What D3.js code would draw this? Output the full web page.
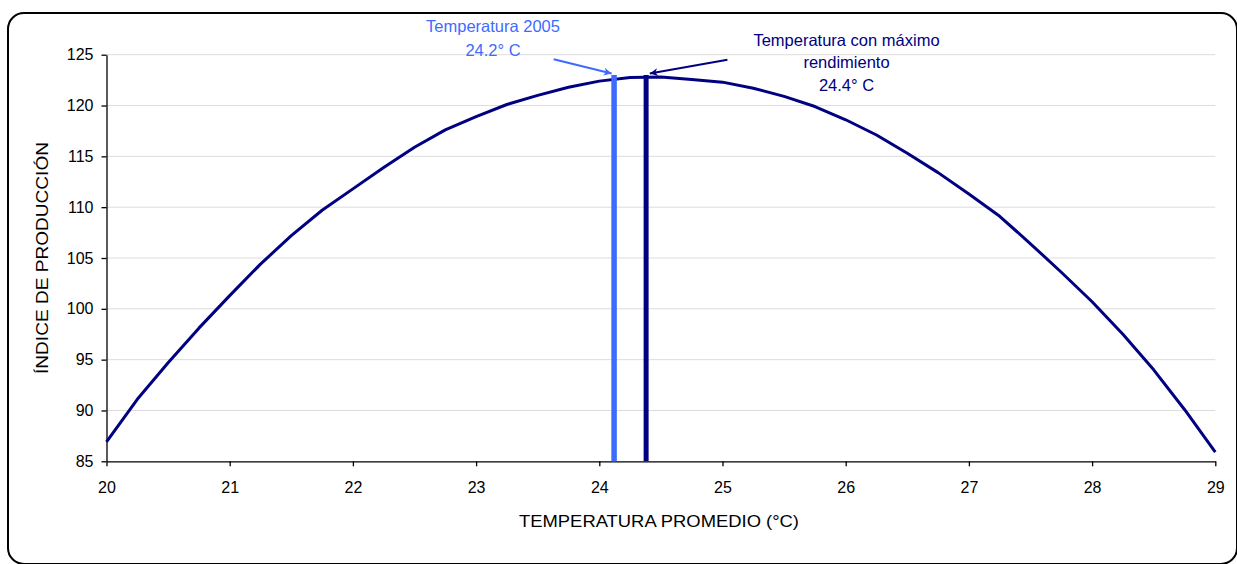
<!DOCTYPE html>
<html><head><meta charset="utf-8">
<script src="https://cdn.jsdelivr.net/npm/d3@7"></script>
<style>
body{margin:0;background:#fff}
svg{display:block}
text{font-family:"Liberation Sans",Arial,Helvetica,sans-serif}
</style>
</head><body>
<svg id="chart" width="1237" height="564"></svg>
<script>
// ---- data ----
const temperatures = [20, 20.25, 20.5, 20.75, 21, 21.25, 21.5, 21.75, 22, 22.25, 22.5, 22.75,
  23, 23.25, 23.5, 23.75, 24, 24.25, 24.5, 24.75, 25, 25.25, 25.5, 25.75, 26, 26.25, 26.5, 26.75,
  27, 27.25, 27.5, 27.75, 28, 28.25, 28.5, 28.75, 29];
const productionIndex = [86.9, 91.1, 94.7, 98.1, 101.3, 104.4, 107.2, 109.7, 111.8, 113.9, 115.9, 117.6,
  118.9, 120.1, 121.0, 121.8, 122.4, 122.75, 122.8, 122.55, 122.3, 121.7, 120.9, 119.9, 118.6, 117.1, 115.3, 113.4,
  111.3, 109.1, 106.4, 103.6, 100.7, 97.5, 94.0, 90.1, 85.9];
const xTickValues = [20, 21, 22, 23, 24, 25, 26, 27, 28, 29];
const yTickValues = [85, 90, 95, 100, 105, 110, 115, 120, 125];
const markerNames = ["Temperatura 2005", "Temperatura con máximo rendimiento"];
const markerTemps = [24.12, 24.38];
const markerTops = [123.0, 123.0];
const markerLabels = [["Temperatura 2005", "24.2° C"], ["Temperatura con máximo", "rendimiento", "24.4° C"]];
// arrow start / tip in data units
const arrowFromT = [23.63, 25.04];
const arrowFromV = [124.55, 124.5];
const arrowToT = [24.10, 24.41];
const arrowToV = [123.15, 123.15];
const xTitle = "TEMPERATURA PROMEDIO (°C)";
const yTitle = "ÍNDICE DE PRODUCCIÓN";

// ---- layout ----
const W = 1237, H = 564;
const plot = {left: 106.5, right: 1215.3, top: 54.7, bottom: 461.3};
const colors = {curve: "#000080", light: "#3d6bff", dark: "#000080", grid: "#dcdcdc", axis: "#000"};

const svg = d3.select("#chart");
svg.append("rect").attr("width", W).attr("height", H).attr("fill", "#fff");
svg.append("rect").attr("x", 8).attr("y", 13).attr("width", 1229).attr("height", 551)
  .attr("rx", 16).attr("ry", 16).attr("fill", "none").attr("stroke", "#000").attr("stroke-width", 2);

const x = d3.scaleLinear().domain([20, 29]).range([plot.left, plot.right]);
const y = d3.scaleLinear().domain([85, 125]).range([plot.bottom, plot.top]);

// gridlines
svg.append("g").selectAll("line").data(yTickValues.filter(v => v > 85)).join("line")
  .attr("x1", plot.left).attr("x2", plot.right)
  .attr("y1", d => y(d)).attr("y2", d => y(d))
  .attr("stroke", colors.grid).attr("stroke-width", 1);

// axes
const yAxis = svg.append("g").attr("transform", `translate(${plot.left},0)`)
  .call(d3.axisLeft(y).tickValues(yTickValues).tickSize(5).tickPadding(8).tickSizeOuter(0));
const xAxis = svg.append("g").attr("transform", `translate(0,${plot.bottom})`)
  .call(d3.axisBottom(x).tickValues(xTickValues).tickSize(5).tickPadding(15).tickSizeOuter(0));
[yAxis, xAxis].forEach(a => {
  a.select(".domain").attr("stroke", colors.axis).attr("stroke-width", 1.3);
  a.selectAll(".tick line").attr("stroke", colors.axis).attr("stroke-width", 1.3);
  a.selectAll(".tick text").attr("font-size", 16).attr("fill", "#000")
    .style("font-family", '"Liberation Sans",Arial,sans-serif');
});

// curve
const pts = temperatures.map((t, i) => [t, productionIndex[i]]);
svg.append("path").datum(pts)
  .attr("d", d3.line().x(d => x(d[0])).y(d => y(d[1])))
  .attr("fill", "none").attr("stroke", colors.curve).attr("stroke-width", 3)
  .attr("stroke-linejoin", "round");

// vertical marker bars
const barColors = [colors.light, colors.dark];
const barWidths = [5.5, 5];
markerTemps.forEach((t, i) => {
  svg.append("line").attr("x1", x(t)).attr("x2", x(t))
    .attr("y1", y(85)).attr("y2", y(markerTops[i]))
    .attr("stroke", barColors[i]).attr("stroke-width", barWidths[i]);
});

// arrow markers
const defs = svg.append("defs");
barColors.forEach((c, i) => {
  defs.append("marker").attr("id", "ah" + i).attr("viewBox", "0 0 10 10")
    .attr("refX", 10).attr("refY", 5).attr("markerWidth", 9).attr("markerHeight", 8)
    .attr("markerUnits", "userSpaceOnUse").attr("orient", "auto")
    .append("path").attr("d", "M0,0 L10,5 L0,10 L3,5 Z").attr("fill", c);
});
arrowFromT.forEach((t, i) => {
  svg.append("line")
    .attr("x1", x(t)).attr("y1", y(arrowFromV[i]))
    .attr("x2", x(arrowToT[i])).attr("y2", y(arrowToV[i]))
    .attr("stroke", barColors[i]).attr("stroke-width", 2)
    .attr("marker-end", `url(#ah${i})`);
});

// annotation texts
const labelCx = [493, 846.5];
const labelYs = [[26, 50], [40, 62, 85]];
markerLabels.forEach((lines, i) => {
  lines.forEach((s, j) => {
    svg.append("text").attr("x", labelCx[i]).attr("y", labelYs[i][j]).attr("dy", "0.35em")
      .attr("text-anchor", "middle").attr("font-size", 16.5).attr("fill", barColors[i]).text(s);
  });
});

// axis titles
svg.append("text").attr("x", 659).attr("y", 521).attr("dy", "0.35em")
  .attr("text-anchor", "middle").attr("font-size", 17).attr("fill", "#000")
  .attr("textLength", 280).attr("lengthAdjust", "spacingAndGlyphs").text(xTitle);
svg.append("text").attr("transform", "translate(42,258) rotate(-90)").attr("dy", "0.35em")
  .attr("text-anchor", "middle").attr("font-size", 17).attr("fill", "#000")
  .attr("textLength", 232).attr("lengthAdjust", "spacingAndGlyphs").text(yTitle);
</script>
</body></html>
